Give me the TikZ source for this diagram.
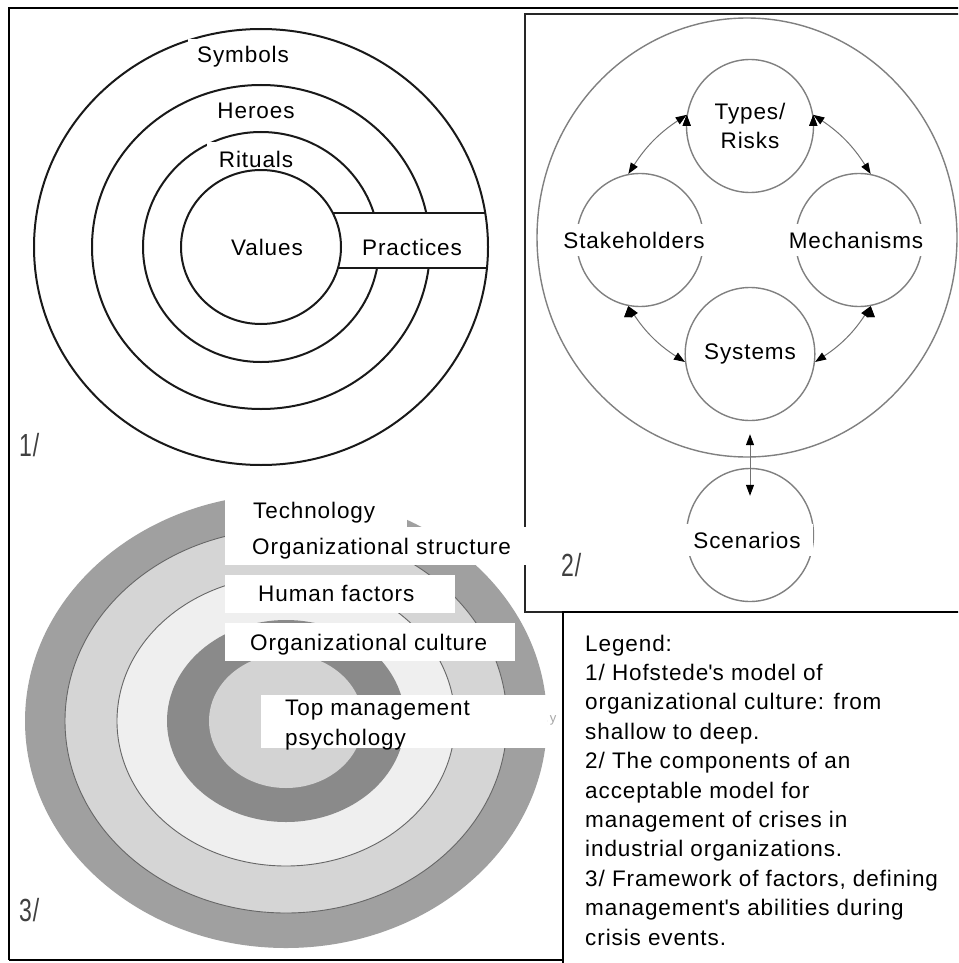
\documentclass[tikz,border=0pt]{standalone}
\usepackage{fontspec}
\setmainfont{Liberation Sans}[LetterSpace=4]
\usetikzlibrary{arrows.meta,shapes.geometric}
\definecolor{ringA}{HTML}{A0A0A0}
\definecolor{ringB}{HTML}{D5D5D5}
\definecolor{ringC}{HTML}{EFEFEF}
\definecolor{ringD}{HTML}{8A8A8A}
\definecolor{ringE}{HTML}{D3D3D3}
\begin{document}
\begin{tikzpicture}[x=1pt, y=1pt,
  txt/.style={font=\fontsize{22.5}{29.4}\selectfont, inner sep=0pt},
  wtxt/.style={txt, fill=white, inner xsep=8pt, inner ysep=8pt},
  wbox/.style={fill=white, inner sep=0pt, anchor=north west},
  num/.style={font=\fontsize{32}{32}\selectfont, text=black!75, xscale=0.72, transform shape, inner sep=0pt, anchor=west},
  hof/.style={draw=black!90, line width=2pt},
  comp/.style={shape=ellipse, draw=black!50, line width=1.4pt, minimum width=127pt, minimum height=133pt, inner sep=0pt},
  conn/.style={{Triangle[length=11pt,width=8pt,color=black]}-{Triangle[length=11pt,width=8pt,color=black]}, draw=black!55, line width=1pt},
  boxline/.style={draw=black, line width=2.5pt},
  ringline/.style={draw=black!60, line width=0.9pt}]
\useasboundingbox (0,0) rectangle (958,-963);
\clip (0,0) rectangle (958,-963);
\fill[white] (0,0) rectangle (958,-963);

% framework rings
\fill[ringA] (286,-721) ellipse [x radius=261, y radius=227];
\filldraw[fill=ringB, ringline] (286,-721) ellipse [x radius=221, y radius=192];
\filldraw[fill=ringC, ringline] (286,-721) ellipse [x radius=169, y radius=145];
\fill[ringD] (286,-721) ellipse [x radius=119, y radius=101];
\fill[ringE] (286,-721) ellipse [x radius=77, y radius=67];

% frames
\draw[boxline] (9,-960) -- (9,-8) -- (970,-8);
\draw[boxline] (9,-960) -- (563,-960);
\draw[boxline, draw=black!85, line width=2pt] (970,-14) -- (525,-14) -- (525,-612) -- (563,-612);
\draw[boxline, line width=2pt] (563,-970) -- (563,-612) -- (970,-612);

% onion model
\draw[hof] (261,-247) ellipse [x radius=169, y radius=162];
\draw[hof] (261,-247) ellipse [x radius=118, y radius=115];
\fill[white] (333,-213) rectangle (486,-268);
\draw[hof] (261,-247) ellipse [x radius=80, y radius=77];
\draw[hof] (261,-247) ellipse [x radius=227, y radius=218];
\draw[hof] (333,-213) -- (485,-213) (338,-268) -- (487,-268);
\node[wtxt, inner xsep=9pt, inner ysep=8pt, anchor=base] (symbols) at (243,-63) {Symbols};
\node[txt, anchor=base] (heroes) at (256,-119) {Heroes};
\node[txt, fill=white, inner xsep=12pt, inner ysep=1.5pt, text height=24pt, anchor=base] (rituals) at (256,-167) {Rituals};
\node[txt, anchor=base] (values) at (267,-255) {Values};
\node[txt, anchor=base] (practices) at (412,-255) {Practices};
\node[num] (n1) at (19,-445) {1/};

% crisis model
\draw[draw=black!50, line width=1.4pt] (747,-237.5) ellipse [x radius=210, y radius=219.5];
\node[comp, align=center, txt] (types) at (750,-126) {Types/\\Risks};
\node[comp] (stake) at (640,-240) {};
\node[comp] (mech) at (859,-240) {};
\node[comp, txt] (sys) at (750,-354) {Systems};
\node[comp] (scen) at (750,-535) {};
\node[wtxt, inner ysep=8pt, anchor=base] (stakelbl) at (634,-248) {Stakeholders};
\node[wtxt, inner ysep=8pt, anchor=base] (mechlbl) at (856,-248) {Mechanisms};
\node[wtxt, inner xsep=12pt, inner ysep=8pt, anchor=base] (scenlbl) at (747,-548) {Scenarios};
\path[conn] (types.170) edge[bend right=12] (stake.100);
\path[conn] (types.10) edge[bend left=12] (mech.80);
\path[conn] (stake.260) edge[bend right=12] (sys.187);
\path[conn] (mech.280) edge[bend left=12] (sys.353);
\path[conn] (sys) edge[shorten <=13pt, shorten >=-28pt] (scen);
\node[num] (n2) at (561,-565) {2/};

% framework labels
\node[wbox, minimum width=182pt, minimum height=37pt] (techbox) at (225,-490) {};
\node[wbox, minimum width=305pt, minimum height=38pt] (structbox) at (225,-527) {};
\node[wbox, minimum width=230pt, minimum height=38pt] (humanbox) at (225,-575) {};
\node[wbox, minimum width=290pt, minimum height=38pt] (culturebox) at (225,-623) {};
\node[wbox, minimum width=286pt, minimum height=53pt] (topbox) at (261,-695) {};
\node[txt, anchor=base west] (tech) at (253,-518) {Technology};
\node[txt, anchor=base west] (struct) at (252,-554) {Organizational structure};
\node[txt, anchor=base west] (human) at (258,-601) {Human factors};
\node[txt, anchor=base west] (culture) at (250,-650) {Organizational culture};
\node[txt, anchor=west, align=left] (topmgmt) at (285,-725) {Top management\\psychology};
\node[font=\fontsize{13}{13}\selectfont, text=black!35, inner sep=0pt] (stray) at (553,-720) {y};
\node[num] (n3) at (19,-910) {3/};

% legend
\node[txt, anchor=north west, align=left] (legend) at (585,-634.6) {Legend:\\1/ Hofstede\textquotesingle s model of\\organizational culture: from\\shallow to deep.\\2/ The components of an\\acceptable model for\\management of crises in\\industrial organizations.\\3/ Framework of factors, defining\\management\textquotesingle s abilities during\\crisis events.};
\end{tikzpicture}
\end{document}
